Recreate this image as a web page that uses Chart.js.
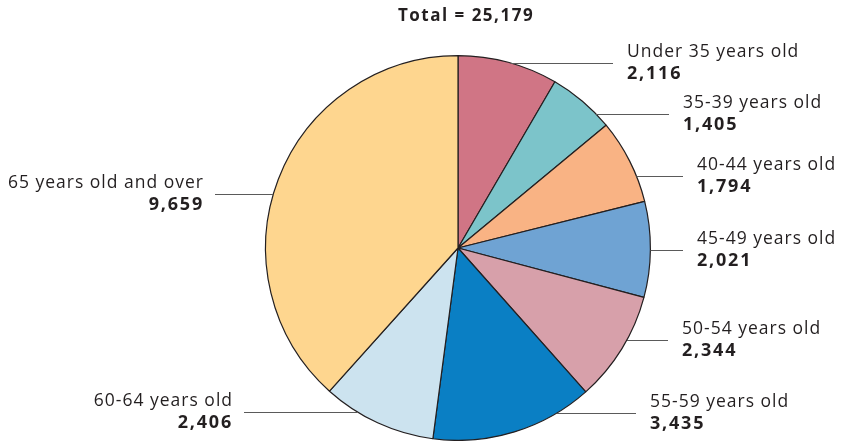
<!DOCTYPE html>
<html>
<head>
<meta charset="utf-8">
<script src="https://cdn.jsdelivr.net/npm/chart.js@4"></script>
<style>
  html, body { margin: 0; padding: 0; background: #fff; }
  #wrap { width: 849px; height: 441px; position: relative; }
</style>
</head>
<body>
<div id="wrap"><canvas id="chart-age"></canvas></div>
<script>
const categories = ['Under 35 years old', '35-39 years old', '40-44 years old', '45-49 years old',
    '50-54 years old', '55-59 years old', '60-64 years old', '65 years old and over'];
const counts = [2116, 1405, 1794, 2021, 2344, 3435, 2406, 9659];
const totalLabel = 'Total = 25,179';

const colors = ['#d07585', '#7cc4ca', '#f9b384', '#6fa3d3', '#d7a0aa', '#0a7fc4', '#cce3ef', '#fed68f'];

// label placement (annotation layout only): text x, leader y, side
const labelX = [627, 683, 697, 697, 682, 650, 233, 204];
const labelY = [63, 114, 176, 250, 340, 413, 412, 194];
const labelSide = ['r', 'r', 'r', 'r', 'r', 'r', 'l', 'l'];

const FONT = '"Open Sans", "DejaVu Sans", sans-serif';

const labelPlugin = {
    id: 'ageLabels',
    afterDatasetsDraw(chart) {
        const c = chart.ctx;
        const arc = chart.getDatasetMeta(0).data[0];
        const cx = arc.x, cy = arc.y, r = arc.outerRadius;
        c.save();
        // title
        c.fillStyle = '#231f20';
        c.font = 'bold 17px ' + FONT;
        c.letterSpacing = '1.5px';
        c.textAlign = 'center';
        c.textBaseline = 'middle';
        c.fillText(totalLabel, 466, 16);

        categories.forEach((name, i) => {
            const y = labelY[i];
            const dy = y - cy;
            const dx = Math.sqrt(Math.max(r * r - dy * dy, 0));
            c.strokeStyle = '#5a5a5a';
            c.lineWidth = 1.2;
            c.beginPath();
            if (labelSide[i] === 'r') {
                c.moveTo(cx + dx, y + 0.5);
                c.lineTo(labelX[i] - 14, y + 0.5);
            } else {
                c.moveTo(labelX[i] + 11, y + 0.5);
                c.lineTo(cx - dx, y + 0.5);
            }
            c.stroke();
            c.fillStyle = '#231f20';
            c.textAlign = labelSide[i] === 'r' ? 'left' : 'right';
            c.textBaseline = 'middle';
            c.font = '17.5px ' + FONT;
            c.letterSpacing = '1px';
            c.fillText(name, labelX[i], y - 11);
            c.font = 'bold 18px ' + FONT;
            c.letterSpacing = '1.8px';
            c.fillText(counts[i].toLocaleString('en-US'), labelX[i], y + 11);
        });
        c.restore();
    }
};

const ctx = document.getElementById('chart-age').getContext('2d');
const myChart = new Chart(ctx, {
    type: 'pie',
    data: {
        labels: categories,
        datasets: [{
            data: counts,
            backgroundColor: colors,
            borderColor: '#231f20',
            borderWidth: 1.2
        }]
    },
    options: {
        responsive: true,
        maintainAspectRatio: false,
        animation: false,
        layout: {
            padding: { left: 265, right: 198, top: 55, bottom: 0 }
        },
        plugins: {
            legend: { display: false },
            tooltip: { enabled: false }
        }
    },
    plugins: [labelPlugin]
});
</script>
</body>
</html>
